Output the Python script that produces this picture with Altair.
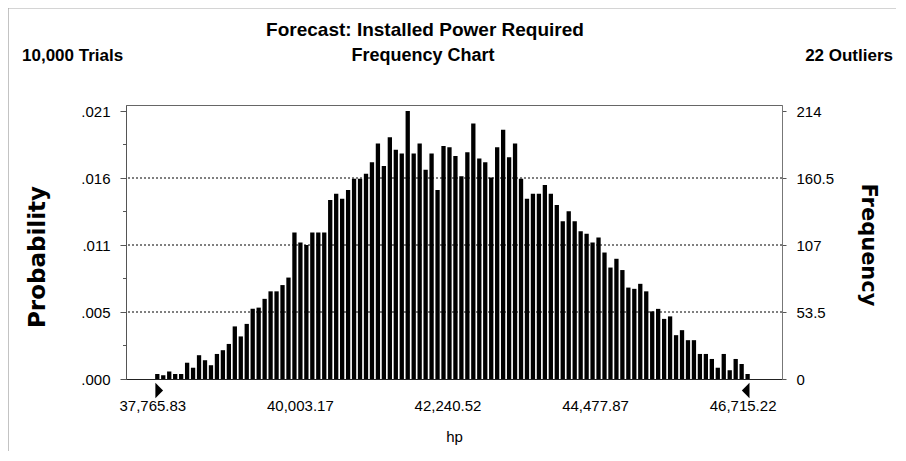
import altair as alt
import pandas as pd

TITLE = "Forecast: Installed Power Required"
LEFT_NOTE = "10,000 Trials"
CENTER_NOTE = "Frequency Chart"
RIGHT_NOTE = "22 Outliers"
X_TITLE = "hp"
Y_LEFT_TITLE = "Probability"
Y_RIGHT_TITLE = "Frequency"

HP_MIN = 37765.83
HP_MAX = 46715.22
X_TICKS = [37765.83, 40003.17, 42240.52, 44477.87, 46715.22]
FREQ_TICKS = [0, 53.5, 107, 160.5, 214]
MINOR_TICKS = [26.75, 80.25, 133.75, 187.25]
GRID_LEVELS = [53.5, 107, 160.5]
TRIALS = 10000

FREQ = [
    4, 3, 6, 4, 4, 13, 9, 19, 15, 11, 20, 23, 28, 42, 34, 44, 56, 57, 64, 70,
    70, 75, 81, 117, 109, 107, 117, 117, 117, 143, 148, 144, 151,
    160, 160, 164, 173, 188, 170, 193, 183, 180, 214, 180, 188, 167, 180, 151,
    186, 185, 178, 162, 181, 204, 176, 173, 161, 185, 199, 177, 188, 160, 144,
    148, 148, 155, 148, 139,
    126, 134, 126, 118, 116, 109, 113, 101, 89, 96, 87, 73, 72, 76, 70, 54, 56,
    48, 50, 35, 39, 31, 31, 20, 20, 16, 9, 20, 7, 16, 12, 4,
]

n = len(FREQ)
step = (HP_MAX - HP_MIN) / (n - 1)
bars_df = pd.DataFrame({"hp": [HP_MIN + i * step for i in range(n)], "freq": FREQ})
grid_df = pd.DataFrame({"level": GRID_LEVELS})
minor_df = pd.DataFrame({"level": MINOR_TICKS})
marker_df = pd.DataFrame({"hp": [HP_MIN, HP_MAX], "side": ["left", "right"]})

W, H = 656, 274
x_scale = alt.Scale(domain=[37291.3, 47236.7], nice=False, zero=False, padding=0)
y_scale = alt.Scale(domain=[0, 218.8], nice=False)

LABEL_FONT = "Liberation Sans"

x_axis = alt.Axis(
    values=X_TICKS, format=",.2f", title=X_TITLE, grid=False,
    tickSize=0, labelPadding=19, labelFont=LABEL_FONT, labelFontSize=15,
    labelColor="black", titleFont=LABEL_FONT, titleFontSize=15,
    titleFontWeight="normal", titleColor="black", titlePadding=16,
    domainColor="#222", labelFlush=False, labelOffset=-5,
)

grid = alt.Chart(grid_df).mark_rule(
    color="black", strokeDash=[2, 2], strokeWidth=1
).encode(
    y=alt.Y("level:Q", scale=y_scale, axis=alt.Axis(
        values=FREQ_TICKS, title=None, grid=False,
        labelExpr=f"substring(format(datum.value/{TRIALS}, '.3f'), 1)",
        labelFont=LABEL_FONT, labelFontSize=15, labelColor="black",
        tickSize=6, labelPadding=10, domainColor="#555", tickColor="#555",
    ))
)

minor = alt.Chart(minor_df).mark_rule(color="#555", strokeWidth=1).encode(
    y=alt.Y("level:Q", scale=y_scale),
    x=alt.value(-3), x2=alt.value(0),
)

bars = alt.Chart(bars_df).mark_bar(color="black", size=4.3).encode(
    x=alt.X("hp:Q", scale=x_scale, axis=x_axis),
    y=alt.Y("freq:Q", scale=y_scale),
)

left_marker = alt.Chart(marker_df[marker_df.side == "left"]).mark_point(
    shape="M -0.25 -1 L 0.75 0 L -0.25 1 Z", size=235, filled=True,
    color="black", opacity=1, strokeWidth=0,
).encode(x=alt.X("hp:Q", scale=x_scale), y=alt.value(H + 11.5))

right_marker = alt.Chart(marker_df[marker_df.side == "right"]).mark_point(
    shape="M 0.25 -1 L -0.75 0 L 0.25 1 Z", size=235, filled=True,
    color="black", opacity=1, strokeWidth=0,
).encode(x=alt.X("hp:Q", scale=x_scale), y=alt.value(H + 11.5))

left_layer = alt.layer(grid, minor, bars, left_marker, right_marker)

right_axis = alt.Chart(bars_df).mark_bar(opacity=0, size=4).encode(
    x=alt.X("hp:Q", scale=x_scale),
    y=alt.Y("freq:Q", scale=y_scale, axis=alt.Axis(
        orient="right", values=FREQ_TICKS, labelExpr="toString(datum.value)",
        title=None, grid=False, labelFont=LABEL_FONT, labelFontSize=15,
        labelColor="black", tickSize=4, labelPadding=10,
        domainColor="#777", tickColor="#555",
    )),
)


def txt(text, x, y, **kw):
    return alt.Chart(pd.DataFrame({"t": [text]})).mark_text(
        text=text, color="black", **kw
    ).encode(x=alt.value(x), y=alt.value(y))


HEAD = dict(font=LABEL_FONT, fontWeight="bold", baseline="middle")
texts = alt.layer(
    txt(TITLE, 299, -75, align="center", fontSize=19, **HEAD),
    txt(LEFT_NOTE, -104, -49, align="left", fontSize=17, **HEAD),
    txt(CENTER_NOTE, 297, -49, align="center", fontSize=18, **HEAD),
    txt(RIGHT_NOTE, 767, -49, align="right", fontSize=17, **HEAD),
    txt(Y_LEFT_TITLE, -88, 152, align="center", angle=270, font="DejaVu Sans",
        fontSize=23, fontWeight="bold", baseline="middle"),
    txt(Y_RIGHT_TITLE, 742, 140, align="center", angle=90, font="DejaVu Sans",
        fontSize=21, fontWeight="bold", baseline="middle"),
)

frame = alt.layer(
    alt.Chart(pd.DataFrame({"a": [0]})).mark_rule(color="#888", strokeWidth=1).encode(
        x=alt.value(-118), y=alt.value(-97), y2=alt.value(346)),
    alt.Chart(pd.DataFrame({"a": [0]})).mark_rule(color="#aaa", strokeWidth=1).encode(
        x=alt.value(-118), x2=alt.value(770), y=alt.value(-97)),
)

chart = alt.layer(left_layer, right_axis, texts, frame).resolve_scale(
    y="independent"
).properties(
    width=W, height=H,
    autosize=alt.AutoSizeParams(type="none"),
    padding={"left": 118, "top": 97, "right": 114, "bottom": 72},
    background="white",
).configure_view(stroke="#666", strokeWidth=1)

chart.save("out.html", embed_options={"renderer": "svg", "actions": False})
